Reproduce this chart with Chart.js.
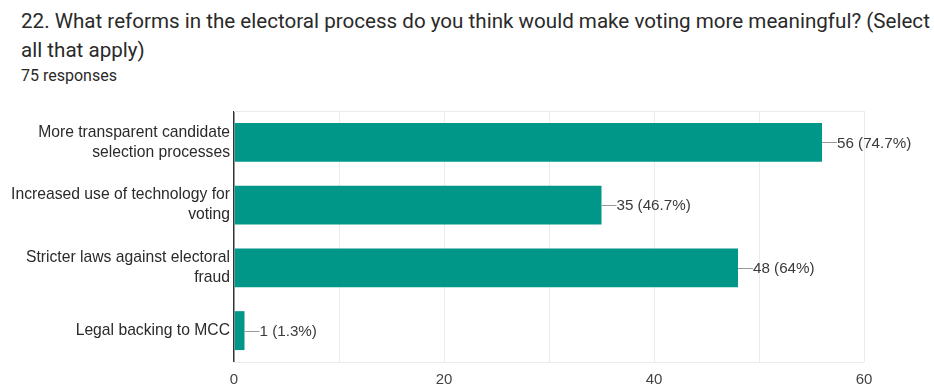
<!DOCTYPE html>
<html>
<head>
<meta charset="utf-8">
<script src="https://cdn.jsdelivr.net/npm/chart.js@4"></script>
<style>
  html, body { margin: 0; padding: 0; background: #fff; }
  #wrap { position: relative; width: 934px; height: 388px; overflow: hidden; }
  #title { position: absolute; left: 21px; top: 7px; font-family: Roboto, sans-serif; font-size: 20.6px; line-height: 29px; color: #2a2a2a; white-space: nowrap; }
  #sub { position: absolute; left: 21px; top: 66px; font-family: Roboto, sans-serif; font-size: 16px; line-height: 20px; color: #2a2a2a; }
  canvas { position: absolute; left: 0; top: 0; }
</style>
</head>
<body>
<div id="wrap">
  <div id="title">22. What reforms in the electoral process do you think would make voting more meaningful? (Select<br>all that apply)</div>
  <div id="sub">75 responses</div>
  <canvas id="c" width="934" height="388"></canvas>
</div>
<script>
const categories = [
  ["More transparent candidate", "selection processes"],
  ["Increased use of technology for", "voting"],
  ["Stricter laws against electoral", "fraud"],
  ["Legal backing to MCC"]
];
const counts = [56, 35, 48, 1];
const valueLabels = ["56 (74.7%)", "35 (46.7%)", "48 (64%)", "1 (1.3%)"];
const xTicks = [0, 20, 40, 60];

const labelPlugin = {
  id: 'valueLabels',
  afterDatasetsDraw(chart) {
    const ctx = chart.ctx;
    const meta = chart.getDatasetMeta(0);
    ctx.save();
    ctx.font = '15.2px "Liberation Sans", Arial, sans-serif';
    ctx.textBaseline = 'middle';
    ctx.fillStyle = '#3a3a3a';
    meta.data.forEach((bar, i) => {
      const x = bar.x, y = bar.y;
      ctx.strokeStyle = '#999';
      ctx.lineWidth = 1;
      ctx.beginPath();
      ctx.moveTo(x, Math.round(y) + 0.5);
      ctx.lineTo(x + 15, Math.round(y) + 0.5);
      ctx.stroke();
      ctx.fillText(valueLabels[i], x + 15, y + 1);
    });
    ctx.restore();
  },
  beforeDatasetsDraw(chart) {
    const ctx = chart.ctx;
    const a = chart.chartArea;
    ctx.save();
    ctx.strokeStyle = '#ebebeb';
    ctx.lineWidth = 1;
    ctx.beginPath();
    ctx.moveTo(a.left, Math.round(a.top) + 0.5);
    ctx.lineTo(a.right, Math.round(a.top) + 0.5);
    ctx.moveTo(a.left, Math.round(a.bottom) + 0.5);
    ctx.lineTo(a.right, Math.round(a.bottom) + 0.5);
    ctx.stroke();
    ctx.restore();
  }
};

new Chart(document.getElementById('c'), {
  type: 'bar',
  data: {
    labels: categories,
    datasets: [{
      data: counts,
      backgroundColor: '#009688',
      borderWidth: 0,
      categoryPercentage: 1,
      barPercentage: 0.62
    }]
  },
  options: {
    indexAxis: 'y',
    responsive: false,
    animation: false,
    devicePixelRatio: 1,
    layout: { padding: { top: 111, right: 70, bottom: 0, left: 0 } },
    plugins: { legend: { display: false }, tooltip: { enabled: false } },
    scales: {
      x: {
        min: 0, max: 60,
        ticks: {
          stepSize: 10,
          color: '#444',
          font: { family: '"Liberation Sans", Arial, sans-serif', size: 15 },
          padding: 9,
          callback: (v) => xTicks.includes(v) ? String(v) : ''
        },
        grid: {
          color: (c) => c.tick && c.tick.value === 0 ? '#333' : '#ebebeb',
          lineWidth: (c) => c.tick && c.tick.value === 0 ? 1.5 : 1,
          drawTicks: false
        },
        border: { display: false },
        afterFit: (s) => { s.height = 26; }
      },
      y: {
        ticks: {
          color: '#2a2a2a',
          font: { family: '"Liberation Sans", Arial, sans-serif', size: 15.7, lineHeight: 1.27 },
          padding: 4
        },
        grid: { display: false, drawTicks: false },
        border: { display: false },
        afterFit: (s) => { s.width = 234; }
      }
    }
  },
  plugins: [labelPlugin]
});
</script>
</body>
</html>
